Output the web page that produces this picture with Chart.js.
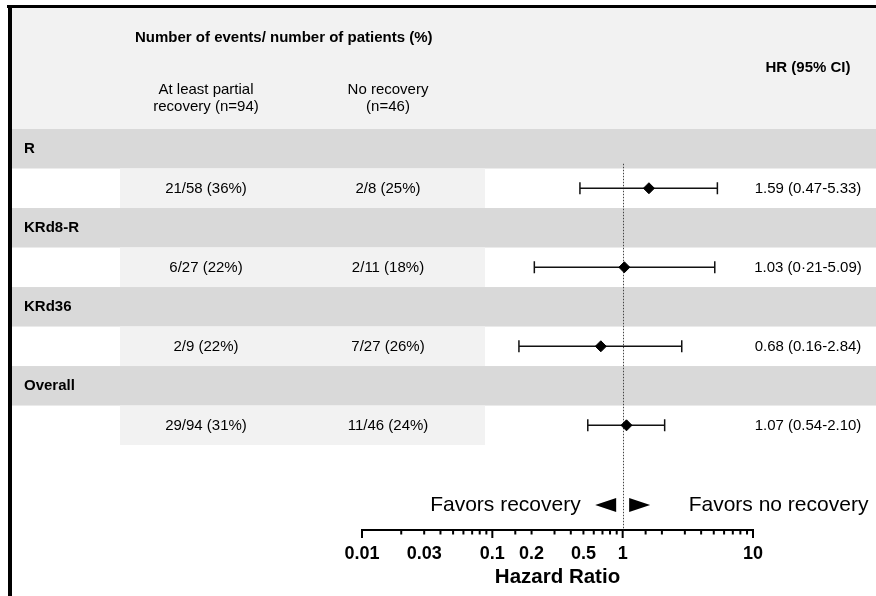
<!DOCTYPE html>
<html>
<head>
<meta charset="utf-8">
<script src="https://cdn.jsdelivr.net/npm/chart.js@4.4.1/dist/chart.umd.min.js"></script>
<style>
  html, body { margin: 0; padding: 0; background: #fff; }
  canvas { display: block; }
</style>
</head>
<body>
<canvas id="forest" width="876" height="596"></canvas>
<script>
// Subgroups and event counts
const groups = ['R', 'KRd8-R', 'KRd36', 'Overall'];
const partialRecovery = ['21/58 (36%)', '6/27 (22%)', '2/9 (22%)', '29/94 (31%)'];
const noRecovery = ['2/8 (25%)', '2/11 (18%)', '7/27 (26%)', '11/46 (24%)'];

// Hazard ratios with 95% confidence limits
const hazardRatio = [1.59, 1.03, 0.68, 1.07];
const ciLower = [0.47, 0.21, 0.16, 0.54];
const ciUpper = [5.33, 5.09, 2.84, 2.10];
const ciLabels = ['1.59 (0.47-5.33)', '1.03 (0\u00b721-5.09)', '0.68 (0.16-2.84)', '1.07 (0.54-2.10)'];

// Labelled ticks on the hazard-ratio axis
const tickValues = [0.01, 0.03, 0.1, 0.2, 0.5, 1, 10];
const tickLabels = ['0.01', '0.03', '0.1', '0.2', '0.5', '1', '10'];

const FONT = "'Liberation Sans', Arial, Helvetica, sans-serif";

// Vertical layout in row units: each subgroup has a title band then a data row
const bandStart = groups.map((g, i) => 2 * i);
const rowCenter = groups.map((g, i) => 2 * i + 1.5);

const forestTable = {
  id: 'forestTable',
  beforeDraw(chart) {
    const { ctx, width, height } = chart;
    const y = chart.scales.y;
    ctx.save();
    ctx.fillStyle = '#ffffff';
    ctx.fillRect(0, 0, width, height);

    // header panel
    const tableTop = y.getPixelForValue(0);
    ctx.fillStyle = '#f2f2f2';
    ctx.fillRect(12, 8, width - 12, tableTop - 8);

    // subgroup bands and count cells
    groups.forEach((g, i) => {
      const b0 = y.getPixelForValue(bandStart[i]);
      const b1 = y.getPixelForValue(bandStart[i] + 1);
      const b2 = y.getPixelForValue(bandStart[i] + 2);
      ctx.fillStyle = '#d9d9d9';
      ctx.fillRect(12, b0, width - 12, b1 - b0);
      ctx.fillStyle = '#f2f2f2';
      ctx.fillRect(120, b1, 365, b2 - b1);
    });

    // frame on the top and left
    ctx.fillStyle = '#000';
    ctx.fillRect(7, 5, width - 7, 3);
    ctx.fillRect(8, 5, 4, height - 5);

    // header text
    ctx.fillStyle = '#000';
    ctx.textBaseline = 'middle';
    ctx.font = 'bold 15px ' + FONT;
    ctx.textAlign = 'left';
    ctx.fillText('Number of events/ number of patients (%)', 135, 38);
    ctx.textAlign = 'center';
    ctx.fillText('HR (95% CI)', 808, 68);
    ctx.font = '15px ' + FONT;
    ctx.fillText('At least partial', 206, 90);
    ctx.fillText('recovery (n=94)', 206, 107);
    ctx.fillText('No recovery', 388, 90);
    ctx.fillText('(n=46)', 388, 107);

    // rows
    groups.forEach((g, i) => {
      const by = y.getPixelForValue(bandStart[i] + 0.5) + 0.5;
      const ry = y.getPixelForValue(rowCenter[i]) + 1;
      ctx.font = 'bold 15px ' + FONT;
      ctx.textAlign = 'left';
      ctx.fillText(g, 24, by);
      ctx.font = '15px ' + FONT;
      ctx.textAlign = 'center';
      ctx.fillText(partialRecovery[i], 206, ry);
      ctx.fillText(noRecovery[i], 388, ry);
      ctx.fillText(ciLabels[i], 808, ry);
    });
    ctx.restore();
  },
  beforeDatasetsDraw(chart) {
    const { ctx } = chart;
    const { x, y } = chart.scales;
    const x1 = x.getPixelForValue(1);
    ctx.save();
    // line of no effect
    ctx.strokeStyle = '#444';
    ctx.lineWidth = 1;
    ctx.setLineDash([1.5, 1.5]);
    ctx.beginPath();
    ctx.moveTo(Math.round(x1) + 0.5, y.getPixelForValue(0.88));
    ctx.lineTo(Math.round(x1) + 0.5, x.top);
    ctx.stroke();
    ctx.setLineDash([]);

    // confidence intervals
    ctx.strokeStyle = '#111';
    ctx.lineWidth = 1.5;
    groups.forEach((g, i) => {
      const cy = y.getPixelForValue(rowCenter[i]);
      const xl = x.getPixelForValue(ciLower[i]);
      const xh = x.getPixelForValue(ciUpper[i]);
      ctx.beginPath();
      ctx.moveTo(xl, cy); ctx.lineTo(xh, cy);
      ctx.moveTo(xl, cy - 6); ctx.lineTo(xl, cy + 6);
      ctx.moveTo(xh, cy - 6); ctx.lineTo(xh, cy + 6);
      ctx.stroke();
    });

    // direction annotations
    const ay = y.getPixelForValue(9.52);
    ctx.fillStyle = '#000';
    ctx.beginPath();
    ctx.moveTo(x1 - 27.5, ay); ctx.lineTo(x1 - 6.5, ay - 7); ctx.lineTo(x1 - 6.5, ay + 7); ctx.closePath();
    ctx.moveTo(x1 + 27.5, ay); ctx.lineTo(x1 + 6.5, ay - 7); ctx.lineTo(x1 + 6.5, ay + 7); ctx.closePath();
    ctx.fill();
    ctx.font = '21px ' + FONT;
    ctx.textBaseline = 'middle';
    ctx.textAlign = 'right';
    ctx.fillText('Favors recovery', x1 - 42, ay);
    ctx.textAlign = 'left';
    ctx.fillText('Favors no recovery', x1 + 66, ay);
    ctx.restore();
  },
  afterDraw(chart) {
    // tick marks below the axis line: long at decades, short in between
    const { ctx } = chart;
    const x = chart.scales.x;
    ctx.save();
    ctx.fillStyle = '#000';
    x.ticks.forEach(t => {
      const px = x.getPixelForValue(t.value);
      const lg = Math.log10(t.value);
      const major = Math.abs(lg - Math.round(lg)) < 1e-6;
      ctx.fillRect(px - 1, x.top, 2, major ? 8 : 4.5);
    });
    ctx.restore();
  }
};

new Chart(document.getElementById('forest'), {
  type: 'scatter',
  data: {
    datasets: [{
      data: hazardRatio.map((v, i) => ({ x: v, y: rowCenter[i] })),
      pointStyle: 'rectRot',
      pointRadius: 5.5,
      pointHoverRadius: 5.5,
      backgroundColor: '#000',
      borderColor: '#000',
      borderWidth: 1
    }]
  },
  options: {
    responsive: false,
    animation: false,
    devicePixelRatio: 1,
    layout: { padding: { left: 362, right: 123, top: 129, bottom: 0 } },
    plugins: { legend: { display: false }, tooltip: { enabled: false } },
    events: [],
    scales: {
      x: {
        type: 'logarithmic',
        min: 0.01,
        max: 10,
        position: 'bottom',
        grid: { display: true, drawOnChartArea: false, drawTicks: true, tickLength: 7, tickColor: 'rgba(0,0,0,0)' },
        border: { display: true, color: '#000', width: 2 },
        ticks: {
          autoSkip: false,
          maxRotation: 0,
          padding: 6,
          color: '#000',
          font: { family: FONT, size: 18, weight: 'bold' },
          callback: (v) => {
            const k = tickValues.findIndex(t => Math.abs(t - v) / t < 1e-6);
            return k < 0 ? '' : tickLabels[k];
          }
        },
        title: {
          display: true,
          text: 'Hazard Ratio',
          color: '#000',
          font: { family: FONT, size: 20.5, weight: 'bold' },
          padding: { top: 0, bottom: 6 }
        },
        afterFit: (s) => { s.height = 66; }
      },
      y: { type: 'linear', reverse: true, min: 0, max: 10.15, display: false }
    }
  },
  plugins: [forestTable]
});
</script>
</body>
</html>
